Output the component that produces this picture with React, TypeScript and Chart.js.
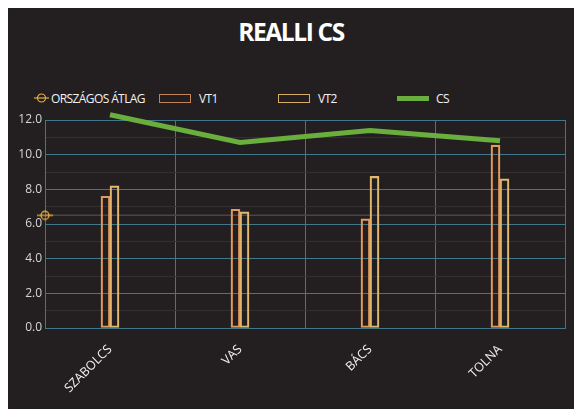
import React, { useEffect, useRef } from "react";
import { Chart, registerables } from "chart.js";

Chart.register(...registerables);

const categories = ["SZABOLCS", "VAS", "BÁCS", "TOLNA"];
const vt1Values = [7.6, 6.85, 6.3, 10.55];
const vt2Values = [8.2, 6.7, 8.75, 8.6];
const csValues = [12.3, 10.7, 11.4, 10.8];
const atlagValue = 6.5;
const yTicks = [0, 2, 4, 6, 8, 10, 12];

const BG = "#231f20";
const GRID = "#41778b";
const VT1_COLOR = "#e39a5c";
const VT2_COLOR = "#e2b86c";
const CS_COLOR = "#6aae3d";
const ATLAG_COLOR = "#e8ae45";
const FONT = "'Open Sans', 'DejaVu Sans', sans-serif";

function makeMarker(): HTMLCanvasElement {
  const c = document.createElement("canvas");
  c.width = 16;
  c.height = 12;
  const ctx = c.getContext("2d")!;
  ctx.strokeStyle = ATLAG_COLOR;
  ctx.lineWidth = 1.3;
  ctx.beginPath();
  ctx.arc(8, 6, 4, 0, Math.PI * 2);
  ctx.stroke();
  ctx.beginPath();
  ctx.moveTo(0, 6);
  ctx.lineTo(16, 6);
  ctx.stroke();
  return c;
}

export default function App() {
  const ref = useRef<HTMLCanvasElement | null>(null);

  useEffect(() => {
    document.body.style.background = "#ffffff";
    document.body.style.overflow = "hidden";
    document.documentElement.style.overflow = "hidden";
    const marker = makeMarker();
    const chart = new Chart(ref.current!, {
      type: "bar",
      data: {
        labels: categories,
        datasets: [
          {
            type: "line",
            label: "ORSZÁGOS ÁTLAG",
            data: [
              { x: 0, y: atlagValue },
              { x: 1, y: atlagValue },
            ] as any,
            xAxisID: "xa",
            borderColor: "#4a4545",
            borderWidth: 1.5,
            pointStyle: marker as any,
            pointRadius: [5, 0] as any,
            clip: false as any,
            order: 3,
          } as any,
          {
            label: "VT1",
            data: vt1Values,
            backgroundColor: "transparent",
            borderColor: VT1_COLOR,
            borderWidth: 1.5,
            borderSkipped: false,
            barThickness: 9,
            order: 2,
          },
          {
            label: "VT2",
            data: vt2Values,
            backgroundColor: "transparent",
            borderColor: VT2_COLOR,
            borderWidth: 1.5,
            borderSkipped: false,
            barThickness: 9,
            order: 2,
          },
          {
            type: "line",
            label: "CS",
            data: csValues,
            borderColor: CS_COLOR,
            borderWidth: 5,
            pointRadius: 0,
            clip: false as any,
            order: 1,
          } as any,
        ],
      },
      options: {
        animation: false,
        responsive: false,
        maintainAspectRatio: false,
        layout: { padding: { top: 112, left: 0, right: 9, bottom: 0 } },
        plugins: {
          legend: { display: false },
          title: { display: false },
          tooltip: { enabled: false },
        },
        scales: {
          x: {
            type: "category",
            offset: true,
            grid: { color: GRID, lineWidth: 1, offset: true, drawTicks: false },
            border: { color: GRID },
            ticks: {
              color: "#f0f0f0",
              font: { family: FONT, size: 12.5 },
              maxRotation: 45,
              minRotation: 45,
              padding: 14,
            },
            afterFit: (s: any) => {
              s.height = 81;
              s.paddingLeft = 0;
              s.paddingRight = 0;
            },
          },
          xa: {
            type: "linear",
            display: false,
            offset: false,
            min: 0,
            max: 1,
          },
          y: {
            min: 0,
            max: 12,
            afterBuildTicks: (s: any) => {
              const t: any[] = [];
              for (let v = 0; v <= 12; v++) t.push({ value: v });
              s.ticks = t;
            },
            grid: {
              color: (c: any) =>
                c.tick && yTicks.includes(c.tick.value) ? GRID : "#342f30",
              lineWidth: 1,
              drawTicks: false,
            },
            border: { color: GRID },
            ticks: {
              color: "#d6d6d6",
              font: { family: FONT, size: 12 },
              padding: 3,
              autoSkip: false,
              callback: (v: any) =>
                yTicks.includes(Number(v)) ? Number(v).toFixed(1) : "",
            },
            afterFit: (s: any) => {
              s.width = 37;
              s.paddingTop = 0;
              s.paddingBottom = 0;
            },
          },
        },
      },
    } as any);
    return () => chart.destroy();
  }, []);

  const legendText: React.CSSProperties = {
    position: "absolute",
    top: 82,
    color: "#f2f2f2",
    fontFamily: FONT,
    fontSize: 12,
    lineHeight: "18px",
    letterSpacing: -0.6,
    whiteSpace: "nowrap",
  };
  const box = (left: number, color: string): React.CSSProperties => ({
    position: "absolute",
    left,
    top: 86,
    width: 30,
    height: 7,
    border: `1.2px solid ${color}`,
  });

  return (
    <div
      style={{
        position: "fixed",
        left: 8,
        top: 8,
        right: 0,
        bottom: 0,
        background: BG,
        overflow: "hidden",
      }}
    >
      <div
        style={{
          position: "absolute",
          top: 7,
          left: 0,
          width: 566,
          textAlign: "center",
          color: "#ffffff",
          fontFamily: FONT,
          fontWeight: 700,
          fontSize: 24.5,
          letterSpacing: -1.4,
          lineHeight: "34px",
        }}
      >
        REALLI CS
      </div>
      <svg
        style={{ position: "absolute", left: 26, top: 84 }}
        width={16}
        height={12}
      >
        <line x1={0} y1={6} x2={15} y2={6} stroke={ATLAG_COLOR} strokeWidth={1.2} />
        <circle cx={7.5} cy={6} r={4} fill="none" stroke={ATLAG_COLOR} strokeWidth={1.2} />
      </svg>
      <div style={{ ...legendText, left: 43 }}>ORSZÁGOS ÁTLAG</div>
      <div style={box(151, "#c08458")} />
      <div style={{ ...legendText, left: 191 }}>VT1</div>
      <div style={box(270, "#d6ae66")} />
      <div style={{ ...legendText, left: 310 }}>VT2</div>
      <div
        style={{
          position: "absolute",
          left: 389,
          top: 88,
          width: 32,
          height: 5,
          background: CS_COLOR,
        }}
      />
      <div style={{ ...legendText, left: 428 }}>CS</div>
      <canvas
        ref={ref}
        width={566}
        height={401}
        style={{ position: "absolute", left: 0, top: 0 }}
      />
    </div>
  );
}
